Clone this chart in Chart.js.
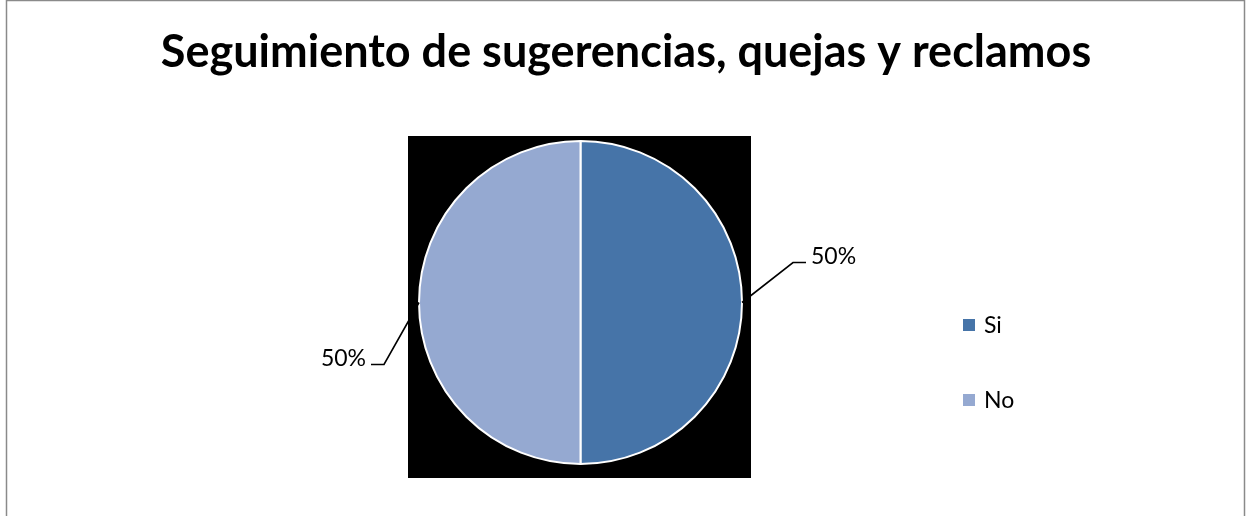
<!DOCTYPE html>
<html>
<head>
<meta charset="utf-8">
<script src="https://cdn.jsdelivr.net/npm/chart.js"></script>
<style>
  html, body { margin: 0; padding: 0; background: #fff; }
  #wrap { width: 1246px; height: 516px; }
</style>
</head>
<body>
<div id="wrap"><canvas id="sqrChart" width="1246" height="516"></canvas></div>
<script>
const titleText = 'Seguimiento de sugerencias, quejas y reclamos';
const categories = ['Si', 'No'];
const shares = [50, 50];
const sliceColors = ['#4674a8', '#95a9d1'];

// frame, title, black plot background, leader-line labels and legend
const decorations = {
    id: 'decorations',
    beforeDraw(chart, args, opts) {
        const { ctx, chartArea: ca } = chart;
        ctx.save();
        ctx.strokeStyle = '#8a8a8a';
        ctx.lineWidth = 1.5;
        ctx.strokeRect(6.5, 0.5, 1238, 530);

        // the title sits over the whole width, not just the padded plot box
        ctx.fillStyle = '#000';
        ctx.font = 'bold 45px Lato';
        ctx.textAlign = 'center';
        ctx.textBaseline = 'alphabetic';
        ctx.fillText(opts.title, 626, 67);

        ctx.fillRect(ca.left - 10, ca.top - 4, ca.width + 18, ca.height + 17);
        ctx.restore();
    },
    afterDraw(chart, args, opts) {
        const { ctx } = chart;
        const data = chart.data.datasets[0].data;
        const total = data.reduce((a, b) => a + b, 0);
        const arcs = chart.getDatasetMeta(0).data;

        ctx.save();
        ctx.font = '23px Lato';
        ctx.fillStyle = '#000';
        ctx.strokeStyle = '#000';
        ctx.lineWidth = 1.6;
        ctx.textBaseline = 'alphabetic';

        arcs.forEach((arc, i) => {
            const { x, y, startAngle, endAngle, outerRadius } =
                arc.getProps(['x', 'y', 'startAngle', 'endAngle', 'outerRadius'], true);
            const mid = (startAngle + endAngle) / 2;
            const sx = x + Math.cos(mid) * outerRadius;
            const sy = y + Math.sin(mid) * outerRadius;
            const [dx, dy] = opts.elbows[i];
            const ex = sx + dx, ey = sy + dy;
            const side = Math.cos(mid) >= 0 ? 1 : -1;
            const hx = ex + side * 13;

            ctx.beginPath();
            ctx.moveTo(sx, sy);
            ctx.lineTo(ex, ey);
            ctx.lineTo(hx, ey);
            ctx.stroke();

            const pct = Math.round(data[i] / total * 100) + '%';
            ctx.textAlign = side > 0 ? 'left' : 'right';
            ctx.fillText(pct, hx + side * 5, ey + 1);
        });

        // legend
        ctx.textAlign = 'left';
        ctx.textBaseline = 'middle';
        chart.data.labels.forEach((label, i) => {
            const ly = opts.legendTop + i * opts.legendStep;
            ctx.fillStyle = sliceColors[i];
            ctx.fillRect(opts.legendLeft, ly - 6, 12, 12);
            ctx.fillStyle = '#000';
            ctx.fillText(label, opts.legendLeft + 21, ly + 1);
        });
        ctx.restore();
    }
};

new Chart(document.getElementById('sqrChart'), {
    type: 'pie',
    data: {
        labels: categories,
        datasets: [{
            data: shares,
            backgroundColor: sliceColors,
            borderColor: '#ffffff',
            borderWidth: 2
        }]
    },
    options: {
        responsive: false,
        animation: false,
        layout: {
            padding: { left: 418, right: 503, top: 140, bottom: 51 }
        },
        plugins: {
            legend: { display: false },
            tooltip: { enabled: false },
            title: { display: false },
            decorations: {
                title: titleText,
                elbows: [[51, -40], [-35, 62]],
                legendLeft: 963,
                legendTop: 325,
                legendStep: 75
            }
        }
    },
    plugins: [decorations]
});
</script>
</body>
</html>
